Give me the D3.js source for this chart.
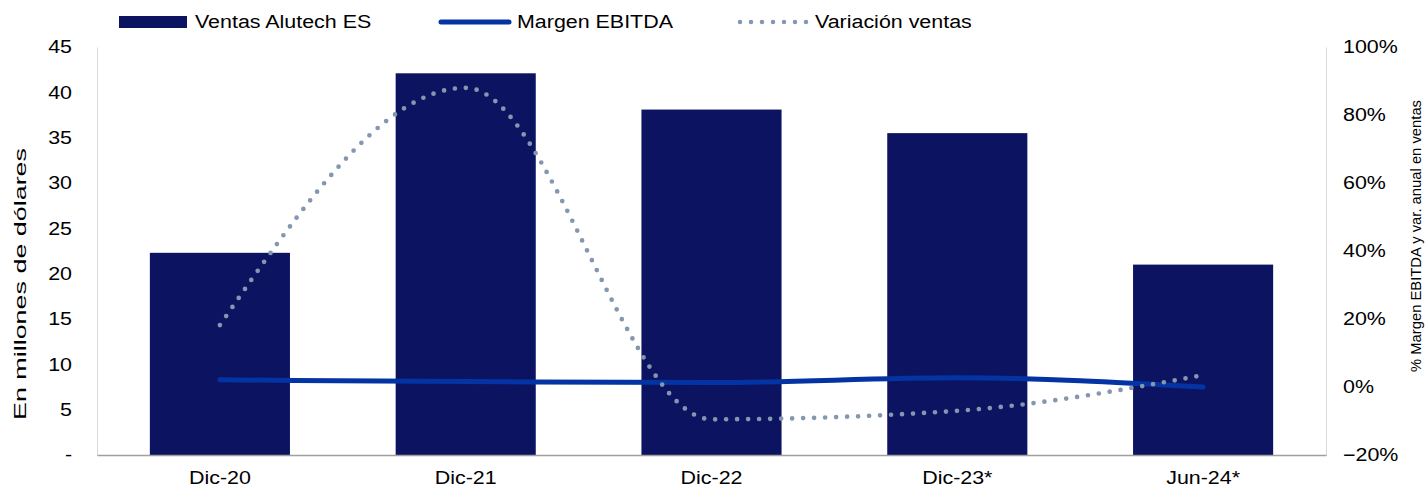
<!DOCTYPE html>
<html>
<head>
<meta charset="utf-8">
<script src="https://cdn.jsdelivr.net/npm/d3@7"></script>
<style>
  body { margin: 0; background: #fff; }
  text { font-family: "Liberation Sans", Arial, sans-serif; fill: #000; }
</style>
</head>
<body>
<svg id="chart"></svg>
<script>
const width = 1426;
const height = 488;

// data
const periods = ["Dic-20", "Dic-21", "Dic-22", "Dic-23*", "Jun-24*"];
const ventas = [22.3, 42.1, 38.1, 35.5, 21.0];          // millones de dólares
const margenEbitda = [0.021, 0.016, 0.013, 0.027, 0.0]; // %
const variacion = [0.182, 0.88, -0.095, -0.07, 0.035];  // %
const leftTicks = [0, 5, 10, 15, 20, 25, 30, 35, 40, 45];
const rightTicks = [-0.2, 0, 0.2, 0.4, 0.6, 0.8, 1.0];

const margin = { top: 47, right: 100, bottom: 33, left: 97 };
// text in the reference is drawn a bit wide
const stretch = 1.19;

const svg = d3
  .select("#chart")
  .attr("width", width)
  .attr("height", height);

const x = d3
  .scaleBand()
  .domain(periods)
  .range([margin.left, width - margin.right])
  .paddingInner(0.43)
  .paddingOuter(0.215);

const y = d3
  .scaleLinear()
  .domain([0, 45])
  .range([height - margin.bottom, margin.top]);

const y2 = d3
  .scaleLinear()
  .domain([-0.2, 1.0])
  .range([height - margin.bottom, margin.top]);

function widen(sel) {
  sel.style("font-size", "18px").each(function () {
    const w = this.getComputedTextLength();
    d3.select(this)
      .attr("textLength", w * stretch)
      .attr("lengthAdjust", "spacingAndGlyphs");
  });
}

//bars
svg
  .append("g")
  .selectAll("rect")
  .data(ventas)
  .join("rect")
  .attr("x", (d, i) => x(periods[i]))
  .attr("y", (d) => y(d))
  .attr("width", x.bandwidth())
  .attr("height", (d) => y(0) - y(d))
  .attr("fill", "#0c1462");

//axes
const left = svg
  .append("g")
  .attr("transform", `translate(${margin.left},0)`)
  .call(
    d3
      .axisLeft(y)
      .tickValues(leftTicks)
      .tickSize(0)
      .tickPadding(25)
      .tickFormat((d) => (d === 0 ? "-" : d))
  );
left.select(".domain").attr("stroke", "#d9d9d9");
left.selectAll("text").call(widen);

const right = svg
  .append("g")
  .attr("transform", `translate(${width - margin.right},0)`)
  .call(
    d3
      .axisRight(y2)
      .tickValues(rightTicks)
      .tickSize(0)
      .tickPadding(17)
      .tickFormat(d3.format(".0%"))
  );
right.select(".domain").attr("stroke", "#d9d9d9");
right.selectAll("text").call(widen);

const bottom = svg
  .append("g")
  .attr("transform", `translate(0,${height - margin.bottom})`)
  .call(d3.axisBottom(x).tickSize(0).tickPadding(16));
bottom.select(".domain").attr("stroke", "#a0a0a0").attr("stroke-width", 1.5);
bottom.selectAll("text").call(widen);

//lines
const cx = (i) => x(periods[i]) + x.bandwidth() / 2;

const smooth = d3
  .line()
  .x((d, i) => cx(i))
  .y((d) => y2(d))
  .curve(d3.curveMonotoneX);

svg
  .append("path")
  .datum(margenEbitda)
  .attr("d", smooth)
  .attr("fill", "none")
  .attr("stroke", "#0433a3")
  .attr("stroke-width", 5)
  .attr("stroke-linecap", "round");

svg
  .append("path")
  .datum(variacion)
  .attr("d", smooth)
  .attr("fill", "none")
  .attr("stroke", "#8497b0")
  .attr("stroke-width", 4.7)
  .attr("stroke-linecap", "round")
  .attr("stroke-dasharray", "0 11");

//axis titles
svg
  .append("text")
  .attr("transform", `translate(26,284) rotate(-90)`)
  .attr("text-anchor", "middle")
  .attr("textLength", 272)
  .attr("lengthAdjust", "spacingAndGlyphs")
  .style("font-size", "17px")
  .text("En millones de dólares");

svg
  .append("text")
  .attr("transform", `translate(1421,236) rotate(-90)`)
  .attr("text-anchor", "middle")
  .attr("textLength", 272)
  .attr("lengthAdjust", "spacingAndGlyphs")
  .style("font-size", "14px")
  .text("% Margen EBITDA y var. anual en ventas");

//legend
const legend = svg.append("g");
legend
  .append("rect")
  .attr("x", 119)
  .attr("y", 16)
  .attr("width", 68)
  .attr("height", 12)
  .attr("fill", "#0c1462");
legend
  .append("line")
  .attr("x1", 441)
  .attr("x2", 509)
  .attr("y1", 22)
  .attr("y2", 22)
  .attr("stroke", "#0433a3")
  .attr("stroke-width", 5)
  .attr("stroke-linecap", "round");
legend
  .append("line")
  .attr("x1", 740)
  .attr("x2", 808)
  .attr("y1", 22)
  .attr("y2", 22)
  .attr("stroke", "#8497b0")
  .attr("stroke-width", 4.5)
  .attr("stroke-linecap", "round")
  .attr("stroke-dasharray", "0 11");

const legendItems = [
  { label: "Ventas Alutech ES", x: 195 },
  { label: "Margen EBITDA", x: 517 },
  { label: "Variación ventas", x: 815 },
];
legend
  .selectAll("text")
  .data(legendItems)
  .join("text")
  .attr("x", (d) => d.x)
  .attr("y", 22)
  .attr("dy", "0.35em")
  .text((d) => d.label)
  .call(widen);
</script>
</body>
</html>
